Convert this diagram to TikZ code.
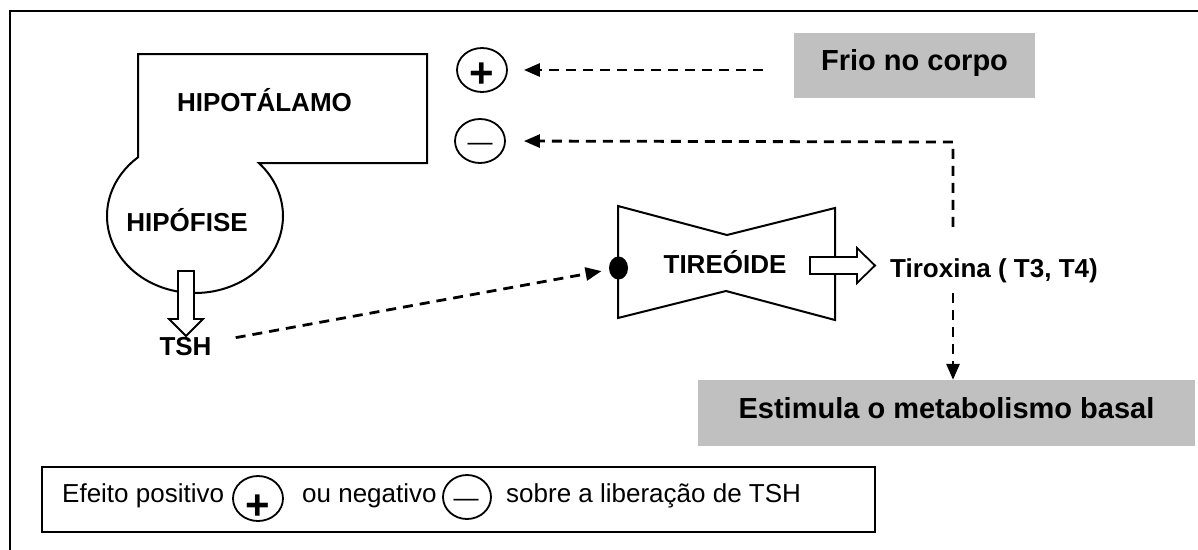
\documentclass[tikz,border=0pt]{standalone}
\usepackage{fontspec}
\setmainfont{Liberation Sans}
\usetikzlibrary{arrows.meta,shapes.geometric,calc}
\definecolor{boxgray}{HTML}{C0C0C0}
\begin{document}
\begin{tikzpicture}[x=1pt,y=-1pt,
  frame/.style={line width=2pt},
  outline/.style={line width=2pt, line join=miter},
  lbl/.style={inner sep=0pt, anchor=base, font=\fontsize{26}{30}\selectfont\bfseries},
  leg/.style={inner sep=0pt, anchor=base west, font=\fontsize{26}{30}\selectfont},
  graybox/.style={fill=boxgray, draw=none, inner sep=0pt, font=\fontsize{29}{34}\selectfont\bfseries},
  signcirc/.style={draw, ellipse, line width=1.8pt, minimum width=50pt, minimum height=44pt, inner sep=0pt},
  plusglyph/.style={inner sep=0pt, font=\fontsize{42}{42}\selectfont\bfseries},
  minusglyph/.style={inner sep=0pt, anchor=base, font=\fontsize{25}{25}\selectfont},
  dasharrow/.style={line width=2.8pt, dash pattern=on 10pt off 7pt, -{Triangle[length=16pt,width=13pt]}},
  hollow/.style={draw, fill=white, line width=1.8pt, line join=miter}
]
\clip (0,0) rectangle (1198,549);
\draw[frame] (10,11) rectangle (1260,600);

% hypothalamus and hypophysis outline
\draw[outline, fill=white] (138,157.8) -- (138,54) -- (427,54) -- (427,163) -- (258.8,163)
  arc[start angle=-43.5, end angle=229.6, x radius=88, y radius=77] -- cycle;
\node[lbl] (hipotalamo) at (264.5,111) {HIPOTÁLAMO};
\node[lbl] (hipofise) at (187,231) {HIPÓFISE};

% hollow arrow hypophysis -> TSH
\coordinate (hipobase) at (186,271);
\draw[hollow] (hipobase) ++(-8,0) -- ++(16,0) -- ++(0,48) -- ++(9,0) -- ++(-17,17) -- ++(-17,-17) -- ++(9,0) -- cycle;
\node[lbl] (tsh) at (185.5,355) {TSH};

% thyroid
\draw[outline] (618,206) -- (727,235) -- (835,208) -- (835,320) -- (726,291) -- (618,318) -- cycle;
\node[ellipse, fill=black, minimum width=19pt, minimum height=23pt, inner sep=0pt] (dot) at (618.5,268) {};
\node[lbl] (tireoide) at (725,273) {TIREÓIDE};
\coordinate (tirobase) at (810,265.5);
\draw[hollow] (tirobase) ++(0,-8.5) -- ++(47,0) -- ++(0,-9) -- ++(18,17.5) -- ++(-18,17.5) -- ++(0,-9) -- ++(-47,0) -- cycle;
\node[lbl] (tirox) at (994,277) {Tiroxina ( T3, T4)};

% grey boxes
\node[graybox, minimum width=241pt, minimum height=65pt, text height=15pt, text depth=6pt] (frio) at (914.5,65.5) {Frio no corpo};
\node[graybox, minimum width=497pt, minimum height=66pt, text height=16pt, text depth=6pt] (estim) at (946.5,413) {Estimula o metabolismo basal};

% signs
\node[signcirc] (plus) at (482,70) {};
\node[plusglyph] at ($(plus)+(0,5.5)$) {+};
\node[signcirc] (minus) at (480,141) {};
\node[minusglyph] at ($(minus)+(0,9.3)$) {—};

% connectors
\draw[dasharrow, shorten <=31pt, shorten >=16pt] (plus.east -| frio.west) -- (plus.east);
\coordinate (corner) at (953,142);
\draw[dasharrow, shorten <=31pt, shorten >=18pt] (tirox.north -| corner) -- (corner) -- (minus.east);
\draw[dasharrow, shorten <=10.5pt] (tirox.south -| corner) -- (corner |- estim.north);
\draw[dasharrow, shorten >=7.5pt] ([shift={(24,1)}]tsh.north east) -- (dot);

% legend
\node[draw, line width=1.8pt, minimum width=833pt, minimum height=65pt, inner sep=0pt] (legend) at (458.5,499.5) {};
\node[leg] (legA) at (62,502) {Efeito positivo};
\node[signcirc, minimum height=45pt] (lplus) at (258,498.5) {};
\node[plusglyph] at ($(lplus)+(0,9)$) {+};
\node[leg] (legB) at (302,502) {ou negativo};
\node[signcirc, minimum width=48pt] (lminus) at (467,497) {};
\node[minusglyph] at ($(lminus)+(-1,9.3)$) {—};
\node[leg] (legC) at (506,502) {sobre a liberação de TSH};
\end{tikzpicture}
\end{document}
